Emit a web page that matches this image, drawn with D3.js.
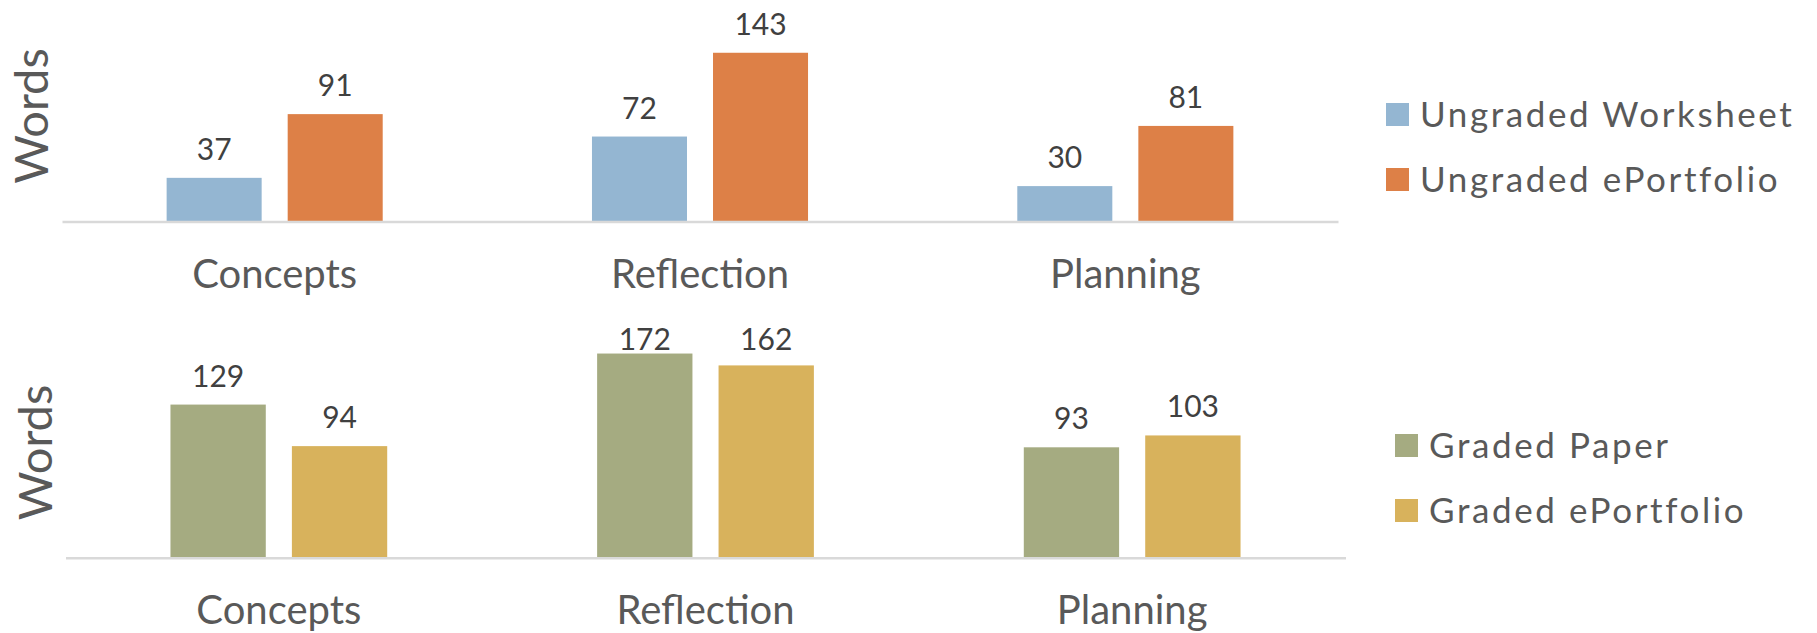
<!DOCTYPE html>
<html>
<head>
<meta charset="utf-8">
<script src="https://cdnjs.cloudflare.com/ajax/libs/d3/7.8.5/d3.min.js"></script>
<style>
  html, body { margin: 0; padding: 0; background: #fff; }
  svg { display: block; font-family: Lato, "Open Sans", sans-serif; }
</style>
</head>
<body>
<svg id="chart" width="1817" height="633"></svg>
<script>
// ---- data ----
const categories = ["Concepts", "Reflection", "Planning"];

const topSeries = ["Ungraded Worksheet", "Ungraded ePortfolio"];
const ungradedWorksheet = [37, 72, 30];
const ungradedEPortfolio = [91, 143, 81];

const bottomSeries = ["Graded Paper", "Graded ePortfolio"];
const gradedPaper = [129, 172, 93];
const gradedEPortfolio = [94, 162, 103];

const yAxisTitle = "Words";

// ---- styles ----
const topColors = ["#94B6D2", "#DD8047"];
const bottomColors = ["#A5AB81", "#D8B25C"];
const labelColor = "#595959";
const valueColor = "#404040";
const axisColor = "#D9D9D9";

const svg = d3.select("#chart");

function drawPanel(cfg) {
  const g = svg.append("g");
  const x0 = d3.scaleBand()
    .domain(categories)
    .range([cfg.x0, cfg.x1])
    .paddingInner(0.492)
    .paddingOuter(0.246);
  const x1 = d3.scaleBand()
    .domain(cfg.series)
    .range([0, x0.bandwidth()])
    .paddingInner(0.215)
    .paddingOuter(0);
  const y = d3.scaleLinear().domain([0, cfg.yMax]).range([cfg.yBase, cfg.yTop]);

  const rows = categories.map((c, i) => ({
    cat: c,
    vals: cfg.series.map((s, j) => ({ series: s, value: cfg.values[j][i], idx: j }))
  }));

  const groups = g.selectAll("g.grp").data(rows).join("g")
    .attr("class", "grp")
    .attr("transform", d => `translate(${x0(d.cat)},0)`);

  groups.selectAll("rect").data(d => d.vals).join("rect")
    .attr("x", d => x1(d.series))
    .attr("width", x1.bandwidth())
    .attr("y", d => y(d.value))
    .attr("height", d => y(0) - y(d.value))
    .attr("fill", d => cfg.colors[d.idx]);

  groups.selectAll("text.val").data(d => d.vals).join("text")
    .attr("class", "val")
    .attr("x", d => x1(d.series) + x1.bandwidth() / 2)
    .attr("y", d => cfg.clamp ? Math.max(y(d.value) - 18, y(cfg.yMax) + 30) : y(d.value) - 18)
    .attr("text-anchor", "middle")
    .attr("font-size", 30)
    .attr("fill", valueColor)
    .text(d => d.value);

  // category axis
  const axis = d3.axisBottom(x0).tickSize(0).tickPadding(0);
  const ag = g.append("g")
    .attr("transform", `translate(0,${cfg.yBase})`)
    .call(axis);
  ag.select(".domain").attr("stroke", axisColor).attr("stroke-width", 2.5);
  ag.selectAll(".tick text")
    .attr("font-family", "Lato, sans-serif")
    .attr("font-size", 40)
    .attr("fill", labelColor)
    .attr("dy", null)
    .attr("y", 66);

  // y title
  g.append("text")
    .attr("transform", `translate(${cfg.titleX},${cfg.titleY}) rotate(-90)`)
    .attr("text-anchor", "middle")
    .attr("font-size", 47)
    .attr("fill", labelColor)
    .text(yAxisTitle);

  // legend
  const lg = g.append("g")
    .attr("transform", `translate(${cfg.legX},${cfg.legY})`);
  const items = lg.selectAll("g").data(cfg.series).join("g")
    .attr("transform", (d, i) => `translate(0,${i * 65})`);
  items.append("rect")
    .attr("x", 0).attr("y", -23).attr("width", 23).attr("height", 23)
    .attr("fill", (d, i) => cfg.colors[i]);
  items.append("text")
    .attr("x", 34).attr("y", 0.5)
    .attr("font-size", 35)
    .attr("letter-spacing", 2.6)
    .attr("fill", labelColor)
    .text(d => d);
}

drawPanel({
  series: topSeries,
  values: [ungradedWorksheet, ungradedEPortfolio],
  colors: topColors,
  x0: 62, x1: 1338,
  yBase: 221.5, yTop: 32.7, yMax: 160,
  clamp: false,
  titleX: 47.7, titleY: 116,
  legX: 1386, legY: 126
});

drawPanel({
  series: bottomSeries,
  values: [gradedPaper, gradedEPortfolio],
  colors: bottomColors,
  x0: 65.5, x1: 1345.5,
  yBase: 557.7, yTop: 320.3, yMax: 200,
  clamp: true,
  titleX: 52.3, titleY: 452.5,
  legX: 1395, legY: 457
});
</script>
</body>
</html>
